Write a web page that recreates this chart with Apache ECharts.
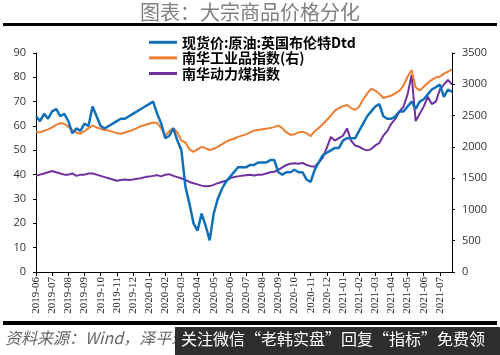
<!DOCTYPE html>
<html>
<head>
<meta charset="utf-8">
<script src="https://cdn.jsdelivr.net/npm/echarts@6/dist/echarts.min.js"></script>
<style>
  html, body { margin: 0; padding: 0; background: #fff; }
  #main { width: 500px; height: 355px; }
</style>
</head>
<body>
<div id="main"></div>
<script>
// 月份标签，每个月取4个周度点
var months = ['2019-06','2019-07','2019-08','2019-09','2019-10','2019-11','2019-12',
  '2020-01','2020-02','2020-03','2020-04','2020-05','2020-06','2020-07','2020-08',
  '2020-09','2020-10','2020-11','2020-12','2021-01','2021-02','2021-03','2021-04',
  '2021-05','2021-06','2021-07'];

// 现货价:原油:英国布伦特Dtd（左轴）
var brent = [
  64, 62, 65, 63,   66, 67, 64, 65,   62, 57, 59, 58,   61, 60, 68, 64,
  60, 59, 60, 61,   62, 63, 63, 64,   65, 66, 67, 68,
  69, 70, 65, 61,   55, 56, 59, 54,   50, 35, 28, 20,   17, 24, 19, 13,
  24, 30, 34, 37,   39, 41, 43, 43,   43, 44, 44, 45,   45, 45, 46, 46,
  41, 40, 41, 41,   42, 41, 41, 38,   37, 42, 45, 48,   49, 50, 51, 51,
  54, 55, 55, 55,   58, 61, 64, 66,   68, 69, 64, 63,   63, 64, 66, 66,
  68, 70, 67, 70,   71, 73, 75, 76,   77, 72, 75, 74
];

// 南华工业品指数（右轴）
var nhIndustry = [
  2240, 2230, 2260, 2280,   2310, 2350, 2380, 2370,   2320, 2260, 2230, 2210,
  2250, 2300, 2340, 2310,   2290, 2270, 2260, 2240,   2220, 2210, 2230, 2250,
  2270, 2300, 2330, 2350,
  2370, 2390, 2380, 2300,   2180, 2250, 2300, 2230,   2100, 2070, 1960, 1920,
  1960, 2000, 1980, 1950,   1970, 2000, 2040, 2080,   2110, 2130, 2160, 2180,
  2200, 2230, 2260, 2270,   2280, 2290, 2300, 2320,   2340, 2300, 2230, 2190,
  2200, 2230, 2240, 2220,   2170, 2250, 2300, 2360,   2430, 2500, 2580, 2620,
  2650, 2670, 2620, 2590,   2640, 2760, 2850, 2930,   2900, 2850, 2780, 2800,
  2820, 2860, 2900, 2980,   3120, 3230, 2950, 2900,   2960, 3020, 3070, 3110,
  3120, 3170, 3200, 3240
];

// 南华动力煤指数（左轴）
var nhCoal = [
  39.5, 40, 40.5, 41,   41.5, 41, 40.5, 40,   40, 40.5, 39.5, 40,   40, 40.5, 40.5, 40,
  39.5, 39, 38.5, 38,   37.5, 37.8, 38, 37.8,   38, 38.3, 38.5, 39,
  39.2, 39.5, 39.8, 39.3,   40, 40.2, 39.5, 39,   38.5, 37.8, 37, 36.5,
  36, 35.5, 35.2, 35.3,   35.8, 36.5, 37, 37.5,   38.5, 39, 39.3, 39.6,
  39.8, 40, 39.7, 40,   40, 40.5, 41, 41.2,   42, 43, 44, 44.5,
  44.7, 44.5, 44.8, 44,   43.5, 43.3, 45, 47,   51, 55.5, 54, 55,
  56, 59, 54, 52,   51.5, 50.5, 50, 50.5,   52, 53, 56, 58,
  61, 63, 66, 68,   73, 81, 62, 65,   68, 72, 69, 70,   75, 77, 79, 77
];

var leftTicks = { min: 0, max: 90, interval: 10 };
var rightTicks = { min: 0, max: 3500, interval: 500 };

var names = ['现货价:原油:英国布伦特Dtd', '南华工业品指数(右)', '南华动力煤指数'];

// 类目：每月4个点，只在每月第一个点显示标签
var cats = [];
months.forEach(function (m) {
  for (var w = 0; w < 4; w++) cats.push(m + '#' + w);
});

var chart = echarts.init(document.getElementById('main'));
var everyMonth = function (i) { return i % 4 === 0; };
var plain = function (v) { return String(v); };

chart.setOption({
  animation: false,
  backgroundColor: '#fff',
  grid: { left: 36, right: 48, top: 53, bottom: 83 },
  legend: {
    data: names,
    orient: 'vertical',
    left: 144,
    top: 30,
    itemWidth: 28,
    itemHeight: 3,
    itemGap: 1,
    icon: 'rect',
    textStyle: {
      fontFamily: 'Noto Sans CJK SC',
      fontWeight: 'bold',
      fontSize: 14,
      lineHeight: 14.6,
      color: '#000'
    }
  },
  xAxis: {
    type: 'category',
    data: cats,
    boundaryGap: false,
    axisLine: { lineStyle: { color: '#000', width: 1 } },
    axisTick: { interval: everyMonth, length: 4, lineStyle: { color: '#000' } },
    axisLabel: {
      interval: everyMonth,
      rotate: 90,
      margin: 5,
      color: '#222',
      fontFamily: 'Liberation Serif',
      fontSize: 11,
      formatter: function (v) { return v.split('#')[0]; }
    },
    splitLine: { show: false }
  },
  yAxis: [
    {
      type: 'value',
      min: leftTicks.min, max: leftTicks.max, interval: leftTicks.interval,
      axisLine: { show: true, lineStyle: { color: '#000' } },
      axisTick: { show: true, length: 3, lineStyle: { color: '#000' } },
      axisLabel: { color: '#333', fontSize: 11, fontFamily: 'Open Sans', margin: 10, formatter: plain },
      splitLine: { show: false }
    },
    {
      type: 'value',
      min: rightTicks.min, max: rightTicks.max, interval: rightTicks.interval,
      position: 'right',
      axisLine: { show: true, lineStyle: { color: '#000' } },
      axisTick: { show: true, length: 3, lineStyle: { color: '#000' } },
      axisLabel: { color: '#333', fontSize: 11, fontFamily: 'Open Sans', margin: 10, formatter: plain },
      splitLine: { show: false }
    }
  ],
  series: [
    {
      name: names[2], type: 'line', yAxisIndex: 0, data: nhCoal,
      showSymbol: false, color: '#7030a0', lineStyle: { width: 2 }
    },
    {
      name: names[1], type: 'line', yAxisIndex: 1, data: nhIndustry,
      showSymbol: false, color: '#ed7d31', lineStyle: { width: 2 }
    },
    {
      name: names[0], type: 'line', yAxisIndex: 0, data: brent,
      showSymbol: false, color: '#0f70b8', lineStyle: { width: 2.5 }
    }
  ],
  graphic: [
    {
      type: 'text', left: 'center', top: 2,
      style: {
        text: '图表：大宗商品价格分化',
        font: '20px "Noto Sans CJK SC"',
        fill: '#808080'
      }
    },
    { type: 'rect', shape: { x: 3, y: 23, width: 494, height: 3 }, style: { fill: '#000' } },
    { type: 'rect', shape: { x: 3, y: 321, width: 494, height: 4 }, style: { fill: '#000' } },
    {
      type: 'text', left: 5, top: 330,
      style: {
        text: '资料来源：Wind，泽平宏观',
        font: 'italic 16px "Noto Sans CJK SC"',
        fill: '#666'
      }
    },
    { type: 'rect', shape: { x: 175, y: 327, width: 325, height: 28 }, style: { fill: '#2e2e2e' } },
    {
      type: 'text', left: 181, top: 331,
      style: {
        text: '关注微信“老韩实盘”回复“指标”免费领',
        font: '16px "Noto Sans CJK SC"',
        fill: '#fff'
      }
    }
  ]
});
</script>
</body>
</html>
